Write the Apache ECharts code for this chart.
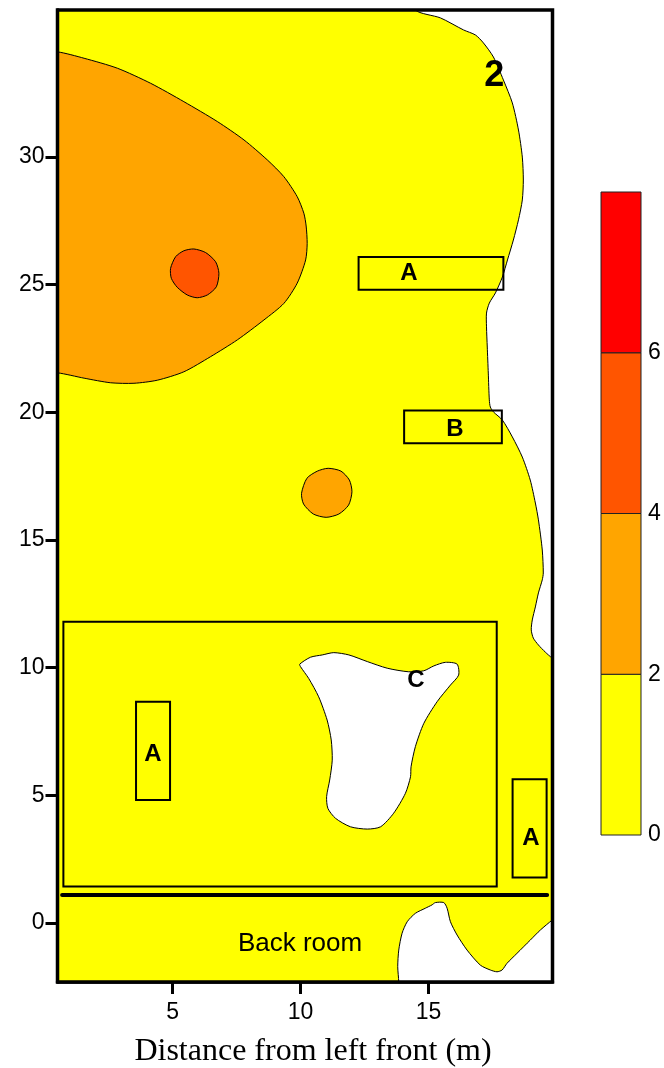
<!DOCTYPE html>
<html><head><meta charset="utf-8">
<script src="https://cdn.jsdelivr.net/npm/echarts@6/dist/echarts.min.js"></script>
<style>html,body{margin:0;padding:0;background:#fff}#c{width:664px;height:1068px}</style>
</head><body><div id="c"></div>
<script>
// ---- axes / ticks ----
const xTicks = [5, 10, 15];
const yTicks = [0, 5, 10, 15, 20, 25, 30];
const domainX = [0.5, 19.85];
const domainY = [-2.31, 35.76];
// ---- colour scale ----
const levels = [0, 2, 4, 6, 8];
const levelTicks = [0, 2, 4, 6];
const bandColors = ['#FFFF00', '#FFA500', '#FF5500', '#FF0000'];
// ---- contour regions (data coordinates, m) ----
const whiteRight = [[14.49,36.5],[14.49,35.76],[15.47,35.45],[16.37,34.98],[16.84,34.78],[17.15,34.47],[17.54,33.92],[17.93,33.02],[18.28,32.12],[18.52,31.06],[18.67,30.00],[18.71,29.10],[18.67,28.32],[18.52,27.54],[18.32,26.75],[18.09,25.97],[17.89,25.30],[17.62,24.68],[17.38,24.28],[17.27,23.89],[17.27,23.35],[17.30,22.56],[17.34,21.54],[17.38,20.49],[17.42,20.21],[17.54,20.02],[17.89,19.70],[18.28,19.04],[18.67,18.25],[18.98,17.35],[19.18,16.45],[19.30,15.79],[19.45,14.61],[19.49,13.71],[19.45,13.44],[19.30,12.93],[19.18,12.38],[19.06,11.87],[19.02,11.48],[19.10,11.16],[19.30,10.89],[19.57,10.61],[19.84,10.38],[20.4,10.1],[20.4,36.5]];
const whiteC = [[9.97,10.14],[10.39,10.41],[10.85,10.50],[11.30,10.59],[11.89,10.50],[12.61,10.24],[13.39,9.98],[14.23,9.84],[14.82,9.88],[15.21,10.07],[15.66,10.21],[16.12,10.14],[16.18,9.71],[15.86,9.32],[15.34,8.67],[14.82,7.82],[14.49,6.91],[14.32,6.12],[14.30,5.73],[14.10,5.08],[13.64,4.30],[13.13,3.77],[12.61,3.68],[11.95,3.77],[11.37,4.10],[11.07,4.49],[11.02,4.95],[11.14,5.60],[11.24,6.38],[11.20,7.17],[11.04,7.95],[10.71,8.86],[10.32,9.58],[10.00,10.04]];
const whiteBack = [[13.84,-3.2],[13.84,-2.31],[13.80,-1.71],[13.84,-1.06],[13.97,-0.40],[14.17,0.05],[14.49,0.38],[14.88,0.58],[15.14,0.71],[15.27,0.80],[15.60,0.80],[15.73,0.58],[15.86,0.05],[16.12,-0.47],[16.51,-1.06],[17.03,-1.65],[17.42,-1.84],[17.68,-1.91],[17.88,-1.84],[18.07,-1.58],[18.46,-1.19],[18.98,-0.67],[19.38,-0.27],[19.84,0.12],[20.4,0.6],[20.4,-3.2]];
const orangeBig = [[-0.6,34.14],[0.5,34.12],[1.54,33.87],[2.84,33.48],[4.14,32.89],[5.44,32.17],[6.75,31.39],[7.79,30.67],[8.70,29.89],[9.35,29.23],[9.87,28.45],[10.13,27.80],[10.22,27.30],[10.26,26.62],[10.20,25.97],[9.87,25.06],[9.35,24.27],[8.57,23.62],[7.53,22.84],[6.48,22.18],[5.44,21.59],[4.40,21.26],[3.49,21.14],[2.58,21.16],[1.54,21.34],[0.5,21.55],[-0.6,21.6]];
const redSpot = [[4.92,25.64],[5.12,26.10],[5.44,26.33],[5.83,26.40],[6.29,26.26],[6.68,25.90],[6.81,25.45],[6.71,24.92],[6.36,24.60],[5.96,24.49],[5.57,24.60],[5.18,24.90],[4.95,25.25]];
const orangeSpot = [[10.04,16.83],[10.25,17.42],[10.66,17.70],[11.08,17.81],[11.58,17.70],[11.91,17.35],[12.01,16.89],[11.88,16.37],[11.50,16.02],[11.00,15.89],[10.50,16.02],[10.12,16.41]];
// ---- room features ----
const boxes = [[0.73,1.43,17.67,11.80],[12.27,24.80,17.93,26.09],[14.05,18.79,17.87,20.07],[3.57,4.82,4.90,8.67],[18.29,1.78,19.62,5.63]];
const wall = [[0.68,1.10],[19.64,1.10]];
const boxLabels = [['A',14.24,25.46],['B',16.04,19.35],['A',4.23,6.62],['A',19.01,3.33],['C',14.51,9.52]];
const panelLabel = ['2',17.57,33.18];
const roomLabel = ['Back room',9.98,-0.82];

const domainPoly = [[domainX[0]-1,domainY[0]-1],[domainX[1]+1,domainY[0]-1],[domainX[1]+1,domainY[1]+1],[domainX[0]-1,domainY[1]+1]];
const layers = [
  {pts: domainPoly, fill: bandColors[0], stroke: null},
  {pts: whiteRight, fill: '#FFFFFF', stroke: '#000'},
  {pts: whiteC, fill: '#FFFFFF', stroke: '#000'},
  {pts: whiteBack, fill: '#FFFFFF', stroke: '#000'},
  {pts: orangeBig, fill: bandColors[1], stroke: '#000'},
  {pts: redSpot, fill: bandColors[2], stroke: '#000'},
  {pts: orangeSpot, fill: bandColors[1], stroke: '#000'}
];

const FONT = '"Liberation Sans", Arial, sans-serif';
const chart = echarts.init(document.getElementById('c'), null, {renderer: 'canvas'});

const option = {
  animation: false,
  backgroundColor: '#fff',
  grid: [
    {left: 57.5, right: 111.5, top: 10, bottom: 86, outerBoundsMode: 'none', containLabel: false},
    {left: 601, width: 40, top: 192, height: 643, outerBoundsMode: 'none', containLabel: false}
  ],
  xAxis: [
    {type: 'value', gridIndex: 0, min: domainX[0], max: domainX[1], position: 'bottom',
     axisLine: {show: true, onZero: false, lineStyle: {color: '#000', width: 3.5}}, splitLine: {show: false},
     axisTick: {show: true, customValues: xTicks, length: 12, inside: false, lineStyle: {color: '#000', width: 3}},
     axisLabel: {customValues: xTicks, margin: 19, fontSize: 23, color: '#000', fontFamily: FONT},
     name: 'Distance from left front (m)', nameLocation: 'middle', nameGap: 54,
     nameTextStyle: {fontFamily: '"Liberation Serif", "Times New Roman", serif', fontSize: 32, color: '#000', padding: [0, 0, 0, 16]}},
    {type: 'value', gridIndex: 1, min: 0, max: 1, show: false}
  ],
  yAxis: [
    {type: 'value', gridIndex: 0, min: domainY[0], max: domainY[1],
     axisLine: {show: true, onZero: false, lineStyle: {color: '#000', width: 3.5}}, splitLine: {show: false},
     axisTick: {show: true, customValues: yTicks, length: 12, lineStyle: {color: '#000', width: 3}},
     axisLabel: {customValues: yTicks, margin: 13, fontSize: 23, color: '#000', fontFamily: FONT}},
    {type: 'value', gridIndex: 1, min: levels[0], max: levels[levels.length-1], position: 'right',
     axisLine: {show: false}, splitLine: {show: false}, axisTick: {show: false},
     axisLabel: {customValues: levelTicks, margin: 7, fontSize: 23, color: '#000', fontFamily: FONT}}
  ],
  series: [
    {
      type: 'custom', xAxisIndex: 0, yAxisIndex: 0, clip: true, z: 1,
      data: layers.map((L, i) => [L.pts[0][0], L.pts[0][1], i]),
      encode: {x: 0, y: 1},
      renderItem: function (params, api) {
        const L = layers[api.value(2)];
        const pts = L.pts.map(p => api.coord(p));
        return {type: 'polygon', shape: {points: pts, smooth: L.stroke ? 0.25 : 0},
          style: {fill: L.fill, stroke: L.stroke || 'none', lineWidth: 1}};
      }
    },
    {
      type: 'custom', xAxisIndex: 0, yAxisIndex: 0, clip: false, z: 5,
      data: boxes.map((b, i) => [b[0], b[1], i]),
      encode: {x: 0, y: 1},
      renderItem: function (params, api) {
        const b = boxes[api.value(2)];
        const p0 = api.coord([b[0], b[3]]);
        const p1 = api.coord([b[2], b[1]]);
        return {type: 'rect', shape: {x: p0[0], y: p0[1], width: p1[0]-p0[0], height: p1[1]-p0[1]},
          style: {fill: 'none', stroke: '#000', lineWidth: 2}};
      }
    },
    {
      type: 'custom', xAxisIndex: 0, yAxisIndex: 0, clip: false, z: 6,
      data: [[wall[0][0], wall[0][1], 0]],
      encode: {x: 0, y: 1},
      renderItem: function (params, api) {
        const a = api.coord(wall[0]);
        const b = api.coord(wall[1]);
        return {type: 'line', shape: {x1: a[0], y1: a[1], x2: b[0], y2: b[1]},
          style: {stroke: '#000', lineWidth: 4, lineCap: 'round'}};
      }
    },
    {
      type: 'custom', xAxisIndex: 0, yAxisIndex: 0, clip: false, z: 7,
      data: boxLabels.map((t, i) => [t[1], t[2], i]),
      encode: {x: 0, y: 1},
      renderItem: function (params, api) {
        const t = boxLabels[api.value(2)];
        const p = api.coord([t[1], t[2]]);
        return {type: 'text', x: p[0], y: p[1],
          style: {text: t[0], fontSize: 24, fontWeight: 'bold', fontFamily: FONT, fill: '#000', align: 'center', verticalAlign: 'middle'}};
      }
    },
    {
      type: 'custom', xAxisIndex: 0, yAxisIndex: 0, clip: false, z: 7,
      data: [[panelLabel[1], panelLabel[2], 0], [roomLabel[1], roomLabel[2], 1]],
      encode: {x: 0, y: 1},
      renderItem: function (params, api) {
        const i = api.value(2);
        const t = i === 0 ? panelLabel : roomLabel;
        const p = api.coord([t[1], t[2]]);
        return {type: 'text', x: p[0], y: p[1],
          style: {text: t[0], fontSize: i === 0 ? 36 : 26, fontWeight: i === 0 ? 'bold' : 'normal',
            fontFamily: FONT, fill: '#000', align: 'center', verticalAlign: 'middle'}};
      }
    },
    {
      type: 'custom', xAxisIndex: 0, yAxisIndex: 0, clip: false, z: 8,
      data: [[domainX[0], domainY[0], 0]],
      encode: {x: 0, y: 1},
      renderItem: function (params, api) {
        const p0 = api.coord([domainX[0], domainY[1]]);
        const p1 = api.coord([domainX[1], domainY[0]]);
        return {type: 'rect', shape: {x: p0[0], y: p0[1], width: p1[0]-p0[0], height: p1[1]-p0[1]},
          style: {fill: 'none', stroke: '#000', lineWidth: 3.5}};
      }
    },
    {
      type: 'custom', xAxisIndex: 1, yAxisIndex: 1, clip: false, z: 2,
      data: bandColors.map((c, i) => [0, levels[i], i]),
      encode: {x: 0, y: 1},
      renderItem: function (params, api) {
        const i = api.value(2);
        const p0 = api.coord([0, levels[i+1]]);
        const p1 = api.coord([1, levels[i]]);
        return {type: 'rect', shape: {x: p0[0], y: p0[1], width: p1[0]-p0[0], height: p1[1]-p0[1]},
          style: {fill: bandColors[i], stroke: '#222', lineWidth: 1}};
      }
    }
  ]
};
chart.setOption(option);
</script>
</body></html>
